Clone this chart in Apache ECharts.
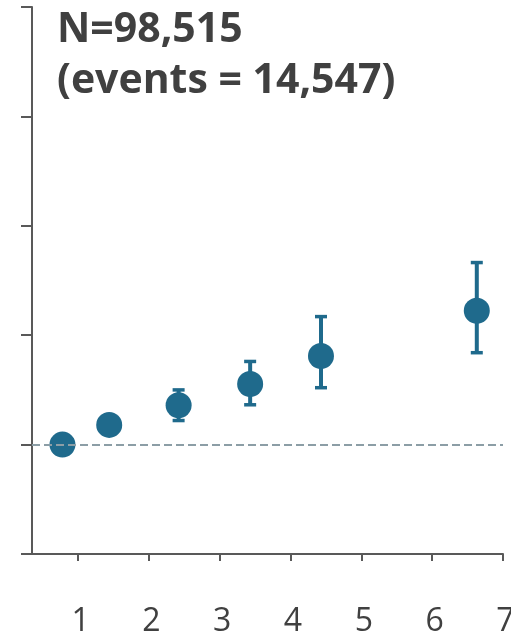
<!DOCTYPE html>
<html>
<head>
<meta charset="utf-8">
<script src="https://cdn.jsdelivr.net/npm/echarts@6/dist/echarts.min.js"></script>
<style>
  html, body { margin: 0; padding: 0; background: #fff; }
  #chart { width: 511px; height: 634px; }
</style>
</head>
<body>
<div id="chart"></div>
<script>
// Group position on the x scale (median of each group) and hazard ratio with 95% CI
const groupX = [0.78, 1.44, 2.42, 3.43, 4.43, 6.63];
const hazard = [1.00, 1.09, 1.18, 1.277, 1.405, 1.612];
const ciLow  = [0.98, 1.07, 1.11, 1.182, 1.26, 1.42];
const ciHigh = [1.02, 1.11, 1.25, 1.38, 1.585, 1.832];
const xTicks = [1, 2, 3, 4, 5, 6, 7];
const refLine = 1;
const titleLines = ['N=98,515', '(events = 14,547)'];

const markColor = '#1f6a8c';
const axisColor = '#595959';

const points = groupX.map((x, i) => [x, hazard[i]]);
const bars = groupX.map((x, i) => [x, ciLow[i], ciHigh[i]]);

const chart = echarts.init(document.getElementById('chart'), null, { renderer: 'canvas' });
chart.setOption({
  animation: false,
  title: {
    text: titleLines.join('\n'),
    left: 52,
    top: 0,
    textStyle: {
      fontFamily: 'Open Sans',
      fontWeight: 'bold',
      fontSize: 41,
      lineHeight: 51,
      color: '#404040'
    }
  },
  grid: { left: 32, right: 8, top: 7, bottom: 80, outerBoundsMode: 'none' },
  xAxis: {
    type: 'value',
    min: 0.35,
    max: 7,
    splitLine: { show: false },
    axisLine: { show: true, onZero: false, lineStyle: { color: axisColor, width: 2 } },
    axisTick: { show: true, customValues: xTicks, length: 7, lineStyle: { color: axisColor, width: 2 } },
    axisLabel: {
      customValues: xTicks,
      margin: 52,
      padding: [0, 0, 0, 5],
      fontFamily: 'Open Sans',
      fontSize: 32,
      color: '#404040',
      alignMinLabel: 'center',
      alignMaxLabel: 'center',
      hideOverlap: false
    }
  },
  yAxis: {
    type: 'value',
    min: 0.5,
    max: 3,
    interval: 0.5,
    splitLine: { show: false },
    axisLine: { show: true, lineStyle: { color: axisColor, width: 2 } },
    axisTick: { show: true, length: 11, lineStyle: { color: axisColor, width: 2 } },
    axisLabel: { show: false }
  },
  series: [
    {
      type: 'custom',
      data: bars,
      z: 2,
      renderItem: function (params, api) {
        const x = api.value(0);
        const lo = api.coord([x, api.value(1)]);
        const hi = api.coord([x, api.value(2)]);
        const half = 6;
        const style = { stroke: markColor, lineWidth: 4 };
        const capStyle = { stroke: markColor, lineWidth: 3.5 };
        return {
          type: 'group',
          children: [
            { type: 'line', shape: { x1: hi[0], y1: hi[1], x2: lo[0], y2: lo[1] }, style: style },
            { type: 'line', shape: { x1: hi[0] - half, y1: hi[1], x2: hi[0] + half, y2: hi[1] }, style: capStyle },
            { type: 'line', shape: { x1: lo[0] - half, y1: lo[1], x2: lo[0] + half, y2: lo[1] }, style: capStyle }
          ]
        };
      }
    },
    {
      type: 'scatter',
      data: points,
      symbol: 'circle',
      symbolSize: 26,
      z: 3,
      itemStyle: { color: markColor, opacity: 1 },
      markLine: {
        silent: true,
        symbol: 'none',
        label: { show: false },
        lineStyle: { type: [8, 4], color: '#8c9ea6', width: 2 },
        data: [{ yAxis: refLine }]
      }
    }
  ]
});
</script>
</body>
</html>
